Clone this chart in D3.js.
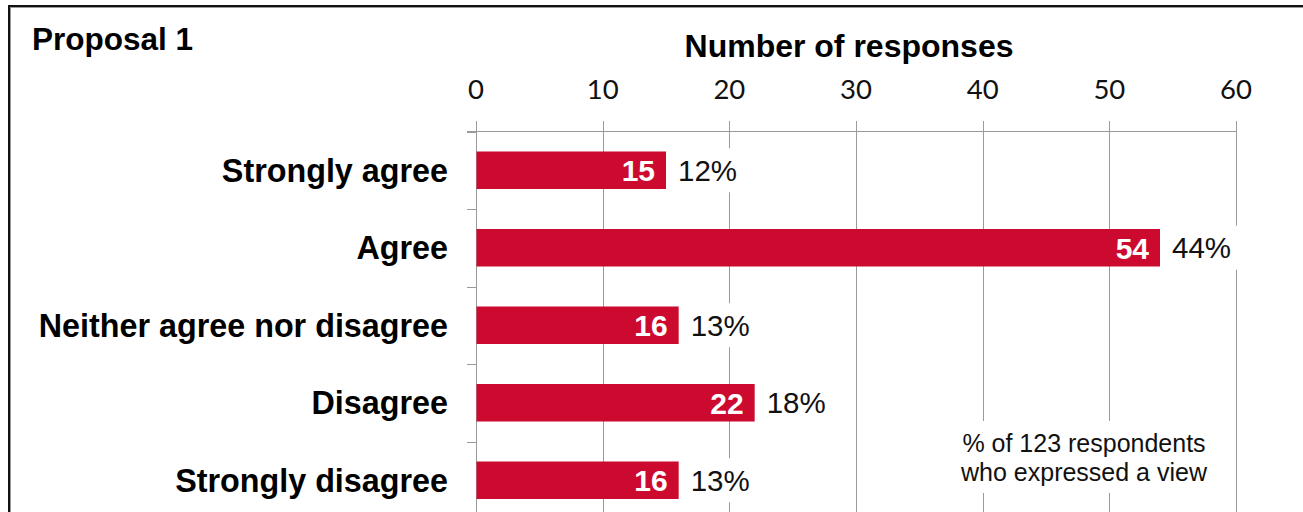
<!DOCTYPE html>
<html>
<head>
<meta charset="utf-8">
<script src="https://cdn.jsdelivr.net/npm/d3@7"></script>
<style>
  html, body { margin: 0; padding: 0; background: #fff; }
  svg { display: block; }
</style>
</head>
<body>
<div id="chart"></div>
<script>
// 数据
const categories = ["Strongly agree", "Agree", "Neither agree nor disagree", "Disagree", "Strongly disagree"];
const counts = [15, 54, 16, 22, 16];
const percents = [12, 44, 13, 18, 13];
const tickValues = [0, 10, 20, 30, 40, 50, 60];
const title = "Proposal 1";
const axisTitle = "Number of responses";
const noteLines = ["% of 123 respondents", "who expressed a view"];

const width = 1303, height = 512;
const barColor = "#CC0A2F";
const gridColor = "#9a9a9a";
const arial = "'Liberation Sans', Arial, sans-serif";

const svg = d3.select("#chart")
    .append("svg")
    .attr("width", width)
    .attr("height", height);

// 外框
svg.append("rect")
    .attr("x", 9).attr("y", 6)
    .attr("width", 1400).attr("height", 600)
    .attr("fill", "none")
    .attr("stroke", "#111")
    .attr("stroke-width", 2);
svg.append("rect")
    .attr("x", 10.5).attr("y", 7.5)
    .attr("width", 1400).attr("height", 600)
    .attr("fill", "none")
    .attr("stroke", "#999")
    .attr("stroke-width", 1);

// 比例尺
const x = d3.scaleLinear().domain([0, 60]).range([476, 1236]);
const y = d3.scaleBand()
    .domain(categories)
    .range([131.5, 519])
    .paddingInner(0.516)
    .paddingOuter(0.258);
const step = y.step();

// 网格线
svg.append("g")
    .selectAll("line")
    .data(tickValues)
    .join("line")
    .attr("x1", d => Math.round(x(d)) + 0.5)
    .attr("x2", d => Math.round(x(d)) + 0.5)
    .attr("y1", 121)
    .attr("y2", height)
    .attr("stroke", gridColor)
    .attr("stroke-width", 1);

// 顶部横轴线
svg.append("line")
    .attr("x1", 467).attr("x2", x(60) + 0.5)
    .attr("y1", 131.5).attr("y2", 131.5)
    .attr("stroke", gridColor);

// 分类刻度
svg.append("g")
    .selectAll("line")
    .data(d3.range(categories.length))
    .join("line")
    .attr("x1", 467).attr("x2", x(0))
    .attr("y1", i => Math.round(y.range()[0] + i * step) + 0.5)
    .attr("y2", i => Math.round(y.range()[0] + i * step) + 0.5)
    .attr("stroke", gridColor);

// 刻度文字
svg.append("g")
    .selectAll("text")
    .data(tickValues)
    .join("text")
    .attr("x", d => x(d))
    .attr("y", 99)
    .attr("text-anchor", "middle")
    .attr("font-family", "Lato, 'Open Sans', sans-serif")
    .attr("font-size", 27.5)
    .attr("fill", "#111")
    .text(d => d);

// 标题
svg.append("text")
    .attr("x", 32).attr("y", 50)
    .attr("font-family", arial)
    .attr("font-weight", "bold")
    .attr("font-size", 31.5)
    .text(title);

svg.append("text")
    .attr("x", 849).attr("y", 57)
    .attr("text-anchor", "middle")
    .attr("font-family", arial)
    .attr("font-weight", "bold")
    .attr("font-size", 32)
    .text(axisTitle);

const rows = categories.map((c, i) => ({ cat: c, count: counts[i], pct: percents[i] }));

// 分类标签
svg.append("g")
    .selectAll("text")
    .data(rows)
    .join("text")
    .attr("x", 448)
    .attr("y", d => y(d.cat) + y.bandwidth() / 2)
    .attr("dy", "0.36em")
    .attr("text-anchor", "end")
    .attr("font-family", arial)
    .attr("font-weight", "bold")
    .attr("font-size", 32.3)
    .text(d => d.cat);

// 条形
svg.append("g")
    .selectAll("rect")
    .data(rows)
    .join("rect")
    .attr("x", x(0) + 0.5)
    .attr("y", d => y(d.cat))
    .attr("width", d => x(d.count) - x(0) - 0.5)
    .attr("height", y.bandwidth())
    .attr("fill", barColor);

// 条内数值
svg.append("g")
    .selectAll("text")
    .data(rows)
    .join("text")
    .attr("x", d => x(d.count) - 11)
    .attr("y", d => y(d.cat) + y.bandwidth() / 2)
    .attr("dy", "0.36em")
    .attr("text-anchor", "end")
    .attr("font-family", arial)
    .attr("font-weight", "bold")
    .attr("font-size", 30)
    .attr("fill", "#fff")
    .text(d => d.count);

// 百分比标签（白底）
const pctG = svg.append("g")
    .selectAll("g")
    .data(rows)
    .join("g");
pctG.append("rect")
    .attr("fill", "#fff");
const pctText = pctG.append("text")
    .attr("x", d => x(d.count) + 12)
    .attr("y", d => y(d.cat) + y.bandwidth() / 2)
    .attr("dy", "0.36em")
    .attr("font-family", arial)
    .attr("font-size", 29.5)
    .attr("fill", "#111")
    .text(d => d.pct + "%");
pctText.each(function(d) {
    const w = this.getComputedTextLength();
    d3.select(this.parentNode).select("rect")
        .attr("x", x(d.count) + 2)
        .attr("y", y(d.cat) + y.bandwidth() / 2 - 22)
        .attr("width", w + 18)
        .attr("height", 44);
});

// 说明文字
const note = svg.append("g");
note.append("rect")
    .attr("x", 955).attr("y", 421)
    .attr("width", 262).attr("height", 72)
    .attr("fill", "#fff");
note.selectAll("text")
    .data(noteLines)
    .join("text")
    .attr("x", 1084)
    .attr("y", (d, i) => 452 + i * 28.5)
    .attr("text-anchor", "middle")
    .attr("font-family", arial)
    .attr("font-size", 25)
    .attr("fill", "#111")
    .text(d => d);
</script>
</body>
</html>
